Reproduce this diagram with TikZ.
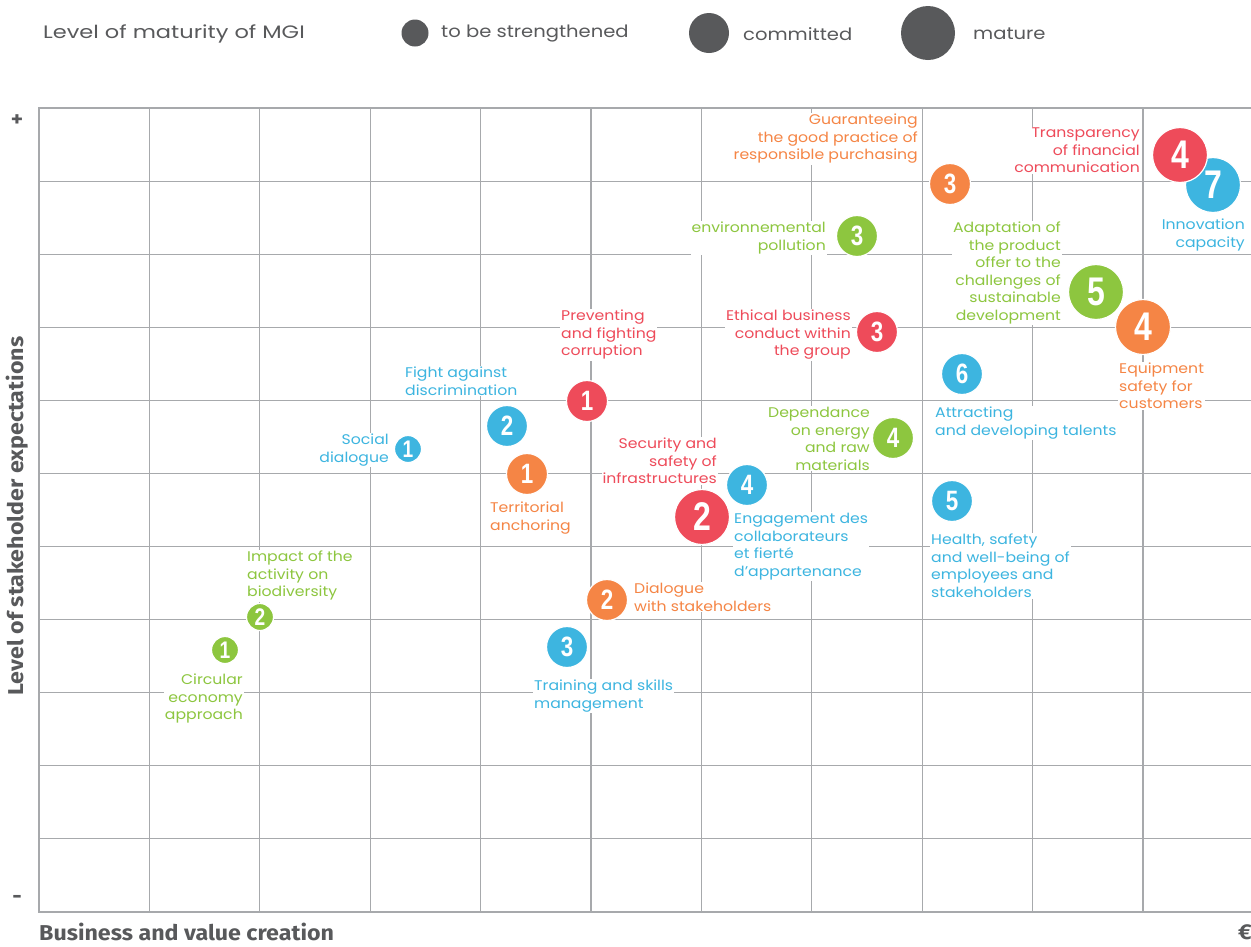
\documentclass[tikz,border=0pt]{standalone}
\usepackage{fontspec}
\setmainfont{Poppins}
\newfontfamily\labfont[FakeStretch=1.12]{Poppins}
\newfontfamily\legfont[FakeStretch=1.15]{Poppins}
\newfontfamily\titfont[FakeStretch=1.25]{Poppins}
\newfontfamily\numfont[FakeStretch=0.8]{Liberation Sans}
\newfontfamily\axfont[FakeStretch=1.08]{Fira Sans}
\definecolor{cred}{HTML}{EE4B5A}
\definecolor{corange}{HTML}{F58545}
\definecolor{cgreen}{HTML}{8DC63F}
\definecolor{cblue}{HTML}{3DB5E0}
\definecolor{cdark}{HTML}{58595B}
\definecolor{cgrid}{HTML}{A7A9AC}
\tikzset{
  bub/.style={circle, fill=#1, draw=white, line width=1.2pt, text=white, inner sep=0pt},
  sm/.style={minimum size=27pt, font=\numfont\bfseries\fontsize{24}{24}\selectfont},
  md/.style={minimum size=41pt, font=\numfont\bfseries\fontsize{28}{28}\selectfont},
  lg/.style={minimum size=55pt, font=\numfont\bfseries\fontsize{40}{40}\selectfont},
  lab/.style={fill=white, inner sep=1pt, text=#1, font=\labfont\fontsize{14}{17.5}\selectfont},
  labr/.style={lab=#1, align=right},
  labl/.style={lab=#1, align=left},
  legc/.style={circle, fill=cdark, inner sep=0pt},
  legt/.style={text=cdark, anchor=west, inner sep=0pt, font=\legfont\fontsize{17}{20}\selectfont},
  axlab/.style={text=cdark, inner sep=0pt, font=\axfont\bfseries\fontsize{21.5}{24}\selectfont},
  gridline/.style={cgrid, line width=1.1pt},
}
\begin{document}
\begin{tikzpicture}[x=1pt,y=-1pt]
\useasboundingbox (0,0) rectangle (1251,946);
\begin{scope}
\clip (0,0) rectangle (1251,946);
% grid
\foreach \k in {1,...,10} {
  \draw[gridline] (0+39+\k*110.4,108) -- (0+39+\k*110.4,912);
}
\foreach \k in {1,...,10} {
  \draw[gridline] (39,108+\k*73.09) -- (1260,108+\k*73.09);
}
\draw[gridline] (39,108) -- (39,912);
\draw[cgrid, line width=2.2pt] (38,108) -- (1260,108);
\draw[cgrid, line width=2.2pt] (38,912) -- (1260,912);

% legend
\node[legt, font=\titfont\fontsize{18}{20}\selectfont] (legtitle) at (43,34) {Level of maturity of MGI};
\node[legc, minimum size=27pt] (leg1) at (415,33) {};
\node[legt] (legt1) at (441,34) {to be strengthened};
\node[legc, minimum size=40pt] (leg2) at (709,33) {};
\node[legt] (legt2) at (743,34) {committed};
\node[legc, minimum size=54pt] (leg3) at (928,33) {};
\node[legt] (legt3) at (973,34) {mature};

% axes
\node[axlab] (plus) at (17,121) {+};
\node[axlab] (minus) at (17,899) {-};
\node[axlab, rotate=90] (ylab) at (17,516) {Level of stakeholder expectations};
\node[axlab, anchor=west] (xlab) at (39,932) {Business and value creation};
\node[axlab, anchor=west] (euro) at (1238,932) {€};

% labels
\node[labr=corange, anchor=north east] (lo3) at (919,113) {Guaranteeing\\the good practice of\\responsible purchasing};
\node[labr=cred, anchor=north east] (lr4) at (1141,127) {Transparency\\of financial\\communication};
\node[labr=cblue, anchor=north east] (lb7) at (1246,218) {Innovation\\capacity};
\node[labr=cgreen, anchor=north east] (lg3) at (827,221) {environnemental\\pollution};
\node[labr=cgreen, anchor=north east] (lg5) at (1062,221) {Adaptation of\\the product\\offer to the\\challenges of\\sustainable\\development};
\node[labl=cred, anchor=north west] (lr1) at (560,309) {Preventing\\and fighting\\corruption};
\node[labr=cred, anchor=north east] (lr3) at (852,309) {Ethical business\\conduct within\\the group};
\node[labl=corange, anchor=north west] (lo4) at (1118,362) {Equipment\\safety for\\customers};
\node[labl=cblue, anchor=north west] (lb2) at (404,366) {Fight against\\discrimination};
\node[labl=cblue, anchor=north west] (lb6) at (934,406) {Attracting\\and developing talents};
\node[labr=cgreen, anchor=north east] (lg4) at (871,406) {Dependance\\on energy\\and raw\\materials};
\node[labr=cblue, anchor=north east] (lb1) at (390,433) {Social\\dialogue};
\node[labr=cred, anchor=north east] (lr2) at (718,437) {Security and\\safety of\\infrastructures};
\node[labl=corange, anchor=north west] (lo1) at (489,501) {Territorial\\anchoring};
\node[labl=cblue, anchor=north west] (lb4) at (733,512) {Engagement des\\collaborateurs\\et fierté\\d’appartenance};
\node[labl=cblue, anchor=north west] (lb5) at (930,533) {Health, safety\\and well-being of\\employees and\\stakeholders};
\node[labl=cgreen, anchor=north west] (lg2) at (246,550) {Impact of the\\activity on\\biodiversity};
\node[labl=corange, anchor=north west] (lo2) at (633,582) {Dialogue\\with stakeholders};
\node[labr=cgreen, anchor=north east] (lg1) at (244,673) {Circular\\economy\\approach};
\node[labl=cblue, anchor=north west] (lb3) at (533,679) {Training and skills\\management};

% bubbles
\node[bub=cgreen, sm] (g1) at (225,650) {1};
\node[bub=cgreen, sm] (g2) at (260,617) {2};
\node[bub=cblue, sm] (b1) at (408,449) {1};
\node[bub=cblue, md] (b2) at (507,426) {2};
\node[bub=cred, md] (r1) at (587,401) {1};
\node[bub=corange, md] (o1) at (527,474) {1};
\node[bub=cblue, md] (b4) at (747,485) {4};
\node[bub=cred, lg] (r2) at (702,517) {2};
\node[bub=corange, md] (o2) at (607,600) {2};
\node[bub=cblue, md] (b3) at (567,647) {3};
\node[bub=cred, md] (r3) at (877,332) {3};
\node[bub=cgreen, md] (g3) at (857,236) {3};
\node[bub=corange, md] (o3) at (950,184) {3};
\node[bub=cgreen, md] (g4) at (893,438) {4};
\node[bub=cblue, md] (b6) at (962,374) {6};
\node[bub=cblue, md] (b5) at (952,501) {5};
\node[bub=cgreen, lg] (g5) at (1096,292) {5};
\node[bub=corange, lg] (o4) at (1143,327) {4};
\node[bub=cblue, lg] (b7) at (1213,185) {7};
\node[bub=cred, lg] (r4) at (1180,155) {4};
\end{scope}
\end{tikzpicture}
\end{document}
